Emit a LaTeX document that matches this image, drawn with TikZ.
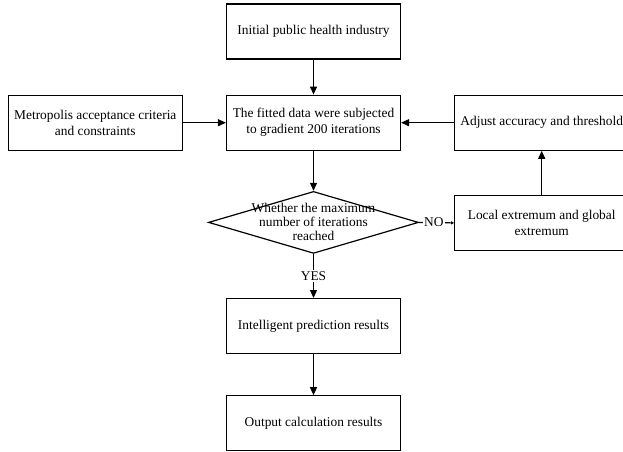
\documentclass[tikz,border=0pt]{standalone}
\usepackage{fontspec}
\setmainfont{Liberation Serif}
\usepackage{tikz}
\usetikzlibrary{shapes.geometric, arrows.meta, positioning}

\begin{document}
\begin{tikzpicture}[
			node distance=40pt,
			every node/.style={font=\fontsize{13.4}{16}\selectfont},
			process/.style={rectangle, draw, line width=1.2pt, fill=white,
				minimum width=174pt, minimum height=55pt, align=center},
			decision/.style={diamond, draw, line width=1.2pt, fill=white,
				minimum width=210pt, minimum height=62pt, inner sep=0pt},
			tag/.style={fill=white, inner sep=1.5pt},
			arrow/.style={-{Triangle[length=8pt,width=7pt]}, line width=1.2pt}
			]
			\useasboundingbox (0,0) rectangle (623pt,-451pt);
			\node[process] (init) at (313.5pt,-31.5pt) {Initial public health industry};
			\node[process, below=35pt of init] (fit) {The fitted data were subjected\\to gradient 200 iterations};
			\node[process, left=43pt of fit] (metro) {Metropolis acceptance criteria\\and constraints};
			\node[process, right=53pt of fit] (adjust) {Adjust accuracy and threshold};
			\node[decision, below=40pt of fit,
				label={[align=center, font=\fontsize{13.4}{14}\selectfont]center:Whether the maximum\\number of iterations\\reached}] (dec) {};
			\node[process, below=44pt of adjust] (local) {Local extremum and global\\extremum};
			\node[process, below=44pt of dec] (intel) {Intelligent prediction results};
			\node[process, below=41pt of intel] (out) {Output calculation results};

			\draw[arrow] (init) -- (fit);
			\draw[arrow] (metro) -- (fit);
			\draw[arrow] (adjust) -- (fit);
			\draw[arrow] (fit) -- (dec);
			\draw[arrow] (dec) -- node[tag] {YES} (intel);
			\draw[-{Triangle[length=3pt,width=3pt]}, line width=1.2pt] (dec.east) -- node[tag, pos=0.42] {NO} (local.west);
			\draw[arrow] (local) -- (adjust);
			\draw[arrow] (intel) -- (out);
		\end{tikzpicture}
\end{document}
